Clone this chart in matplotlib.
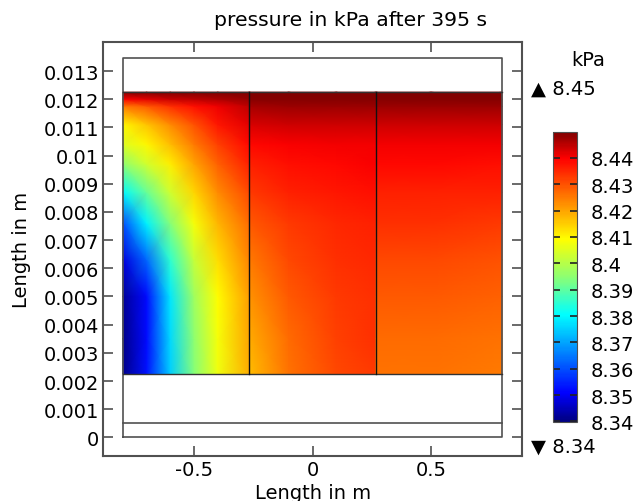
import numpy as np
import matplotlib
matplotlib.use("Agg")
import matplotlib.pyplot as plt
from matplotlib.colors import LinearSegmentedColormap
from matplotlib.ticker import FuncFormatter

rows_y = [0.00225, 0.0035, 0.005, 0.0063, 0.0076, 0.0087, 0.0097,
          0.0104, 0.0111, 0.01175, 0.0120, 0.01225]

left_x = [-0.8, -0.7, -0.6, -0.5, -0.4, -0.2667]
left_p = [
    [8.341, 8.353, 8.375, 8.394, 8.407, 8.419],
    [8.341, 8.352, 8.376, 8.395, 8.408, 8.420],
    [8.342, 8.352, 8.378, 8.397, 8.409, 8.421],
    [8.348, 8.363, 8.385, 8.402, 8.413, 8.424],
    [8.360, 8.379, 8.394, 8.408, 8.418, 8.427],
    [8.380, 8.391, 8.403, 8.414, 8.423, 8.431],
    [8.395, 8.403, 8.411, 8.420, 8.428, 8.436],
    [8.405, 8.410, 8.417, 8.425, 8.432, 8.439],
    [8.410, 8.416, 8.423, 8.430, 8.437, 8.442],
    [8.425, 8.429, 8.434, 8.438, 8.441, 8.445],
    [8.440, 8.442, 8.444, 8.445, 8.446, 8.448],
    [8.4495, 8.4495, 8.4495, 8.4495, 8.4495, 8.4495],
]

mid_x = [-0.2667, -0.1, 0.1, 0.2667]
mid_p = [
    [8.417, 8.426, 8.431, 8.433],
    [8.419, 8.427, 8.432, 8.434],
    [8.422, 8.429, 8.433, 8.434],
    [8.425, 8.431, 8.434, 8.435],
    [8.429, 8.433, 8.435, 8.436],
    [8.433, 8.436, 8.437, 8.438],
    [8.436, 8.438, 8.439, 8.440],
    [8.439, 8.440, 8.4405, 8.4405],
    [8.4425, 8.4435, 8.4435, 8.4435],
    [8.4465, 8.4475, 8.4475, 8.4475],
    [8.449, 8.449, 8.449, 8.449],
    [8.4497, 8.4497, 8.4497, 8.4497],
]

right_x = [0.2667, 0.5, 0.8]
right_p = [
    [8.426, 8.426, 8.425],
    [8.427, 8.427, 8.426],
    [8.429, 8.429, 8.428],
    [8.431, 8.431, 8.430],
    [8.434, 8.434, 8.433],
    [8.436, 8.436, 8.436],
    [8.439, 8.439, 8.438],
    [8.4405, 8.4405, 8.4405],
    [8.4435, 8.4435, 8.4435],
    [8.4475, 8.4475, 8.4475],
    [8.449, 8.449, 8.449],
    [8.4497, 8.4497, 8.4497],
]

p_min, p_max = 8.3398, 8.4498
cbar_ticks = [8.34, 8.35, 8.36, 8.37, 8.38, 8.39, 8.40, 8.41, 8.42, 8.43, 8.44]
y_ticks = [i * 0.001 for i in range(14)]
x_ticks = [-0.5, 0, 0.5]

rainbow = LinearSegmentedColormap.from_list("rainbow_comsol", [
    (0.0, (0.0, 0.0, 0.5)),
    (0.1, (0.0, 0.0, 1.0)),
    (0.37, (0.0, 1.0, 1.0)),
    (0.5, (0.55, 1.0, 0.45)),
    (0.63, (1.0, 1.0, 0.0)),
    (0.91, (1.0, 0.0, 0.0)),
    (1.0, (0.5, 0.0, 0.0)),
])

plt.rcParams["font.family"] = "DejaVu Sans"
plt.rcParams["font.size"] = 14

fig = plt.figure(figsize=(6.34, 5.02), dpi=100)
ax = fig.add_axes([103 / 634, 45 / 502, 419 / 634, 414 / 502])
frame = "#505050"

for xs, ps in [(left_x, left_p), (mid_x, mid_p), (right_x, right_p)]:
    X, Y = np.meshgrid(xs, rows_y)
    mesh = ax.pcolormesh(X, Y, np.array(ps), shading="gouraud", cmap=rainbow,
                         vmin=p_min, vmax=p_max)

# geometry outlines
ax.plot([-0.8, 0.8, 0.8, -0.8, -0.8], [0, 0, 0.01345, 0.01345, 0], color=frame, lw=1.2)
ax.plot([-0.8, 0.8], [0.0005, 0.0005], color=frame, lw=1.2)
ax.plot([-0.8, 0.8], [0.00225, 0.00225], color="#333333", lw=1.0)
ax.plot([-0.8, 0.8], [0.01225, 0.01225], color="#333333", lw=1.0)
for xv in [-0.2667, 0.2667]:
    ax.plot([xv, xv], [0.00225, 0.01225], color="#111111", lw=1.0)

ax.set_xlim(-0.884, 0.884)
ax.set_ylim(-0.00066, 0.01403)
ax.set_xticks(x_ticks)
ax.set_yticks(y_ticks)
fmt = FuncFormatter(lambda v, pos: "%g" % round(v, 6))
ax.xaxis.set_major_formatter(fmt)
ax.yaxis.set_major_formatter(fmt)
ax.tick_params(direction="in", length=7, width=1.2, color=frame,
               top=True, right=True, labelsize=14, pad=3)
for s in ax.spines.values():
    s.set_color(frame)
    s.set_linewidth(1.5)

fig.text(22 / 634, 1 - 250 / 502, "Length in m", rotation=90, ha="center", va="center", fontsize=14)
fig.text(313 / 634, 3 / 502, "Length in m", ha="center", va="baseline", fontsize=14)
fig.text(350 / 634, 1 - 20 / 502, "pressure in kPa after 395 s", ha="center", va="center", fontsize=14.7)

# colour legend
cax = fig.add_axes([553 / 634, 79 / 502, 24 / 634, 290 / 502])
cb = fig.colorbar(mesh, cax=cax)
cb.set_ticks(cbar_ticks)
cb.set_ticklabels(["%g" % t for t in cbar_ticks])
cb.outline.set_edgecolor(frame)
cax.tick_params(direction="in", length=5, width=1.2, color="#222222",
                left=True, right=True, labelsize=14, pad=10)

fig.text(588 / 634, 1 - 60 / 502, "kPa", ha="center", va="center", fontsize=14)
fig.text(531 / 634, 1 - 89 / 502, "\u25b2 8.45", ha="left", va="center", fontsize=14)
fig.text(531 / 634, 1 - 447 / 502, "\u25bc 8.34", ha="left", va="center", fontsize=14)

fig.savefig("out.png", dpi=100)
